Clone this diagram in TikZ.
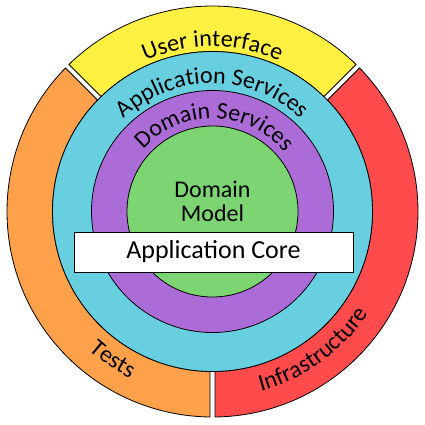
\documentclass[tikz,border=0pt]{standalone}
\usepackage{fontspec}
\setmainfont{Carlito}
\usetikzlibrary{decorations.text}
\definecolor{uiyellow}{RGB}{255,240,65}
\definecolor{testorange}{RGB}{255,160,75}
\definecolor{infrared}{RGB}{255,75,75}
\definecolor{appcyan}{RGB}{104,207,224}
\definecolor{dompurple}{RGB}{172,108,216}
\definecolor{modelgreen}{RGB}{125,212,115}
\newcommand\ringsize{\fontsize{24}{28}\selectfont}
% outer ring piece: start angle, end angle, colour
\newcommand\ringsegment[3]{%
  \pgfmathsetmacro\outoff{asin(2.5/205.5)}%
  \pgfmathsetmacro\inoff{asin(2.5/160)}%
  \draw[fill=#3] (#1+\outoff:205.5) arc[start angle=#1+\outoff, end angle=#2-\outoff, radius=205.5]
    -- (#2-\inoff:160) arc[start angle=#2-\inoff, end angle=#1+\inoff, radius=160] -- cycle;}

\begin{document}
\begin{tikzpicture}[x=1pt, y=1pt, line width=0.8pt,
  ringtext/.style={decorate, decoration={text along path, text align=center, text={|\ringsize|#1}}}]
  \useasboundingbox (-212.5,-212.5) rectangle (212.5,211.5);
  \ringsegment{45}{135}{uiyellow}
  \ringsegment{135}{270}{testorange}
  \ringsegment{-90}{45}{infrared}
  \draw[fill=appcyan] (0,0) circle (160);
  \draw[fill=dompurple] (0,0) circle (121);
  \draw[fill=modelgreen] (0,0) circle (85.5);
  % labels on the rings
  \path[ringtext=User interface] (160:165) arc[start angle=160, end angle=20, radius=165];
  \path[ringtext=Application Services] (170:128) arc[start angle=170, end angle=10, radius=128];
  \path[ringtext=Domain Services] (168.5:93) arc[start angle=168.5, end angle=8.5, radius=93];
  \path[ringtext=Tests] (196:186) arc[start angle=196, end angle=276, radius=186];
  \path[ringtext=Infrastructure] (-94:186) arc[start angle=-94, end angle=-14, radius=186];
  \node[font=\fontsize{24}{24}\selectfont, align=center, inner sep=0pt] (model) at (0,10.5) {Domain\\Model};
  \node[draw, fill=white, minimum width=279, minimum height=40, inner sep=0pt,
    font=\fontsize{26}{28}\selectfont] (core) at (1,-40.5) {Application Core};
\end{tikzpicture}
\end{document}
